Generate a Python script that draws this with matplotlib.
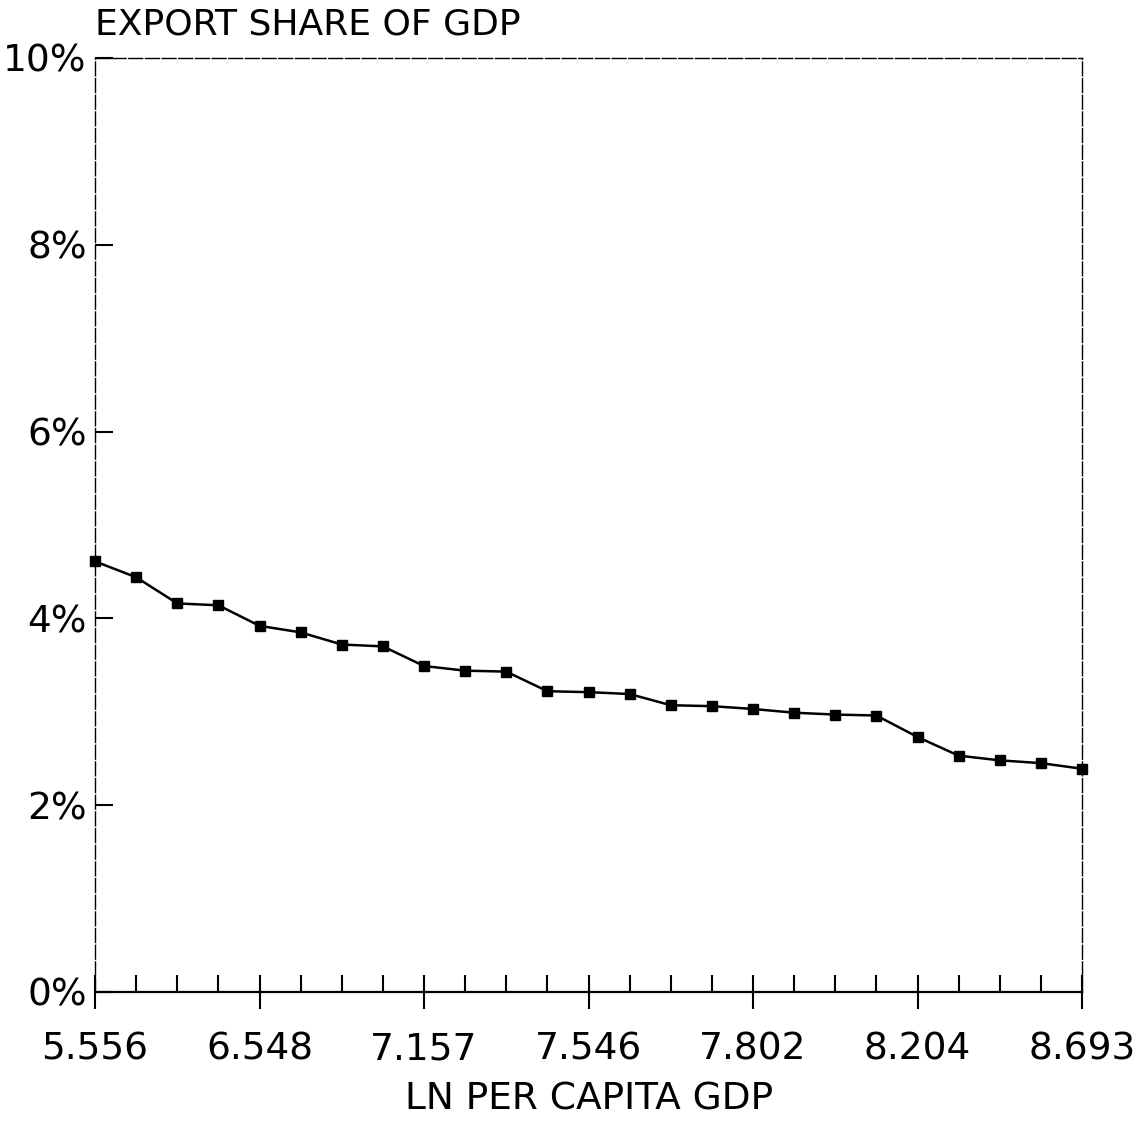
import numpy as np
import matplotlib
matplotlib.use("Agg")
from matplotlib import pyplot as plt

plt.rcParams["font.family"] = ["DejaVu Sans"]

# 25 points along the income axis, labels shown every 4th
tick_labels = ["5.556", "6.548", "7.157", "7.546", "7.802", "8.204", "8.693"]
export_share = [4.61, 4.44, 4.16, 4.14, 3.92, 3.85, 3.72, 3.70, 3.49, 3.44,
                3.43, 3.22, 3.21, 3.19, 3.07, 3.06, 3.03, 2.99, 2.97, 2.96,
                2.73, 2.53, 2.48, 2.45, 2.39]
y_ticks = [0, 2, 4, 6, 8, 10]

fig = plt.figure(figsize=(11.48, 11.28), dpi=100)
ax = fig.add_axes([0.0828, 0.1206, 0.8597, 0.828])

x = np.arange(len(export_share))
ax.plot(x, export_share, color="black", lw=1.8, marker="s", ms=6.5,
        clip_on=False, zorder=5)

ax.set_xlim(0, len(export_share) - 1)
ax.set_ylim(0, 10)

# x ticks: major crossing ticks with labels, minor inward ticks
major = x[::4]
ax.set_xticks(major)
ax.set_xticklabels(tick_labels)
ax.set_xticks([i for i in x if i not in major], minor=True)
ax.tick_params(axis="x", which="major", direction="inout", length=25, width=1.5,
               labelsize=27, pad=16)
ax.tick_params(axis="x", which="minor", direction="in", length=12, width=1.5)

ax.set_yticks(y_ticks)
ax.set_yticklabels([f"{v}%" for v in y_ticks])
ax.tick_params(axis="y", direction="in", length=13, width=1.5, labelsize=27, pad=6)

for side in ["top", "right", "left"]:
    ax.spines[side].set_linestyle((0, (10, 2)))
    ax.spines[side].set_linewidth(1.0)
ax.spines["bottom"].set_linewidth(1.6)

fig.text(0.0828, 0.969, "EXPORT SHARE OF GDP", fontsize=26, ha="left", va="baseline")
fig.text(0.513, 0.025, "LN PER CAPITA GDP", fontsize=27, ha="center", va="center")

plt.savefig("out.png", dpi=100)
